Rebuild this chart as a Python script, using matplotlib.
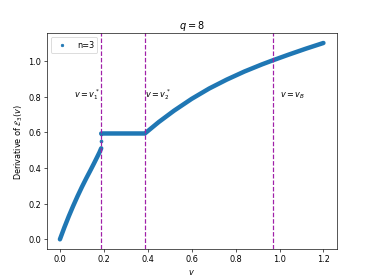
import numpy as np
import matplotlib
matplotlib.use('Agg')
from matplotlib import pyplot as plt
from matplotlib.lines import Line2D

# values
v1 = 0.188
v2 = 0.387
vB = 0.97

v_low = [0.0, 0.02, 0.04, 0.06, 0.08, 0.10, 0.12, 0.14, 0.155, 0.17, 0.18, 0.188]
d_low = [0.0, 0.066, 0.128, 0.186, 0.241, 0.293, 0.342, 0.389, 0.425, 0.462, 0.487, 0.51]

v_jump = [0.188, 0.188]
d_jump = [0.55, 0.59]

v_high = [0.188, 0.387, 0.45, 0.52, 0.60, 0.68, 0.76, 0.84, 0.92, 0.97, 1.04, 1.12, 1.2]
d_high = [0.593, 0.593, 0.657, 0.721, 0.787, 0.845, 0.895, 0.94, 0.98, 1.003, 1.034, 1.068, 1.1]

fig = plt.figure(figsize=(6.4, 4.8), dpi=374 / 6.4)
ax = fig.add_subplot(111)

c = '#1f77b4'
ax.plot(v_low, d_low, '-', color=c, lw=5.5, solid_capstyle='round')
ax.plot(v_jump, d_jump, '.', color=c, ms=7)
ax.plot(v_high, d_high, '-', color=c, lw=5.5, solid_capstyle='round')

for x in [v1, v2, vB]:
    ax.axvline(x, color='#a020a8', ls='--', lw=1.5)

ax.text(v1 - 0.125, 0.8, r'$v=v_1^*$')
ax.text(v2 + 0.002, 0.8, r'$v=v_2^*$')
ax.text(vB + 0.03, 0.8, r'$v=v_B$')

h = Line2D([], [], marker='.', ls='none', color=c)
ax.legend([h], ['n=3'], loc='upper left')

ax.set_xlim(-0.06, 1.26)
ax.set_ylim(-0.055, 1.155)
ax.set_title(r'$q=8$')
ax.set_xlabel(r'$v$')
ax.set_ylabel(r'Derivative of $\mathcal{E}_3(v)$')

fig.savefig('out.png', dpi=374 / 6.4)
